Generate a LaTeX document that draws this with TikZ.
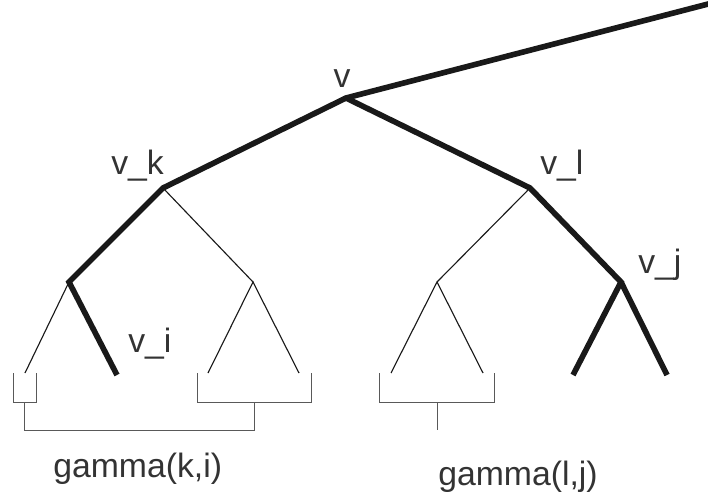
\documentclass[tikz,border=0pt]{standalone}
\usepackage{fontspec}
\setmainfont{Liberation Sans}
\usepackage{tikz}
\usetikzlibrary{positioning,calc}

\begin{document}
\begin{tikzpicture}[
    x=0.025cm, y=-0.025cm,
    heavy/.style={line width=4pt, black!90},
    light/.style={line width=0.8pt, black!90},
    brack/.style={line width=0.7pt, black!65},
    lbl/.style={inner sep=0pt, text=black!80, font=\fontsize{24}{28}\selectfont}
]
    \useasboundingbox (0,0) rectangle (708,498);

    % tree points
    \coordinate (top) at (712,3);
    \coordinate (v)   at (346,98);
    \coordinate (vk)  at (163,188);
    \coordinate (vl)  at (530,188);
    \coordinate (vkl) at (69,282);
    \coordinate (vkr) at (253,282);
    \coordinate (vll) at (437,282);
    \coordinate (vj)  at (621,282);
    \coordinate (a1) at (25,373);
    \coordinate (vi) at (117,375);
    \coordinate (a2) at (208,373);
    \coordinate (a3) at (299,373);
    \coordinate (a4) at (391,373);
    \coordinate (a5) at (483,373);
    \coordinate (b1) at (573,375);
    \coordinate (b2) at (667,375);

    % thin subtrees
    \draw[light] (vk) -- (vkr);
    \draw[light] (vl) -- (vll);
    \draw[light] (vkl) -- (a1);
    \draw[light] (a2) -- (vkr) -- (a3);
    \draw[light] (a4) -- (vll) -- (a5);

    % heavy paths
    \draw[heavy] (top) -- (v) -- (vk) -- (vkl) -- (vi);
    \draw[heavy] (v) -- (vl) -- (vj) -- (b1);
    \draw[heavy] (vj) -- (b2);

    % brackets
    \draw[brack] (13,373) -- (13,402) -- (36,402) -- (36,373);
    \draw[brack] (197,373) -- (197,402) -- (311,402) -- (311,373);
    \draw[brack] (24,402) -- (24,430) -- (254,430) -- (254,402);
    \draw[brack] (379,373) -- (379,402) -- (494,402) -- (494,373);
    \draw[brack] (437,402) -- (437,430);

    % labels
    \node[lbl, anchor=base] (lv) at (342,88) {v};
    \node[lbl, anchor=base west] (lvk) at (111,175) {v\_k};
    \node[lbl, anchor=base west] (lvl) at (540,175) {v\_l};
    \node[lbl, anchor=base west] (lvj) at (638,273) {v\_j};
    \node[lbl, anchor=base west] (lvi) at (128,352) {v\_i};
    \node[lbl, anchor=base west] (gki) at (53,477) {gamma(k,i)};
    \node[lbl, anchor=base west] (glj) at (438,485) {gamma(l,j)};
\end{tikzpicture}
\end{document}
